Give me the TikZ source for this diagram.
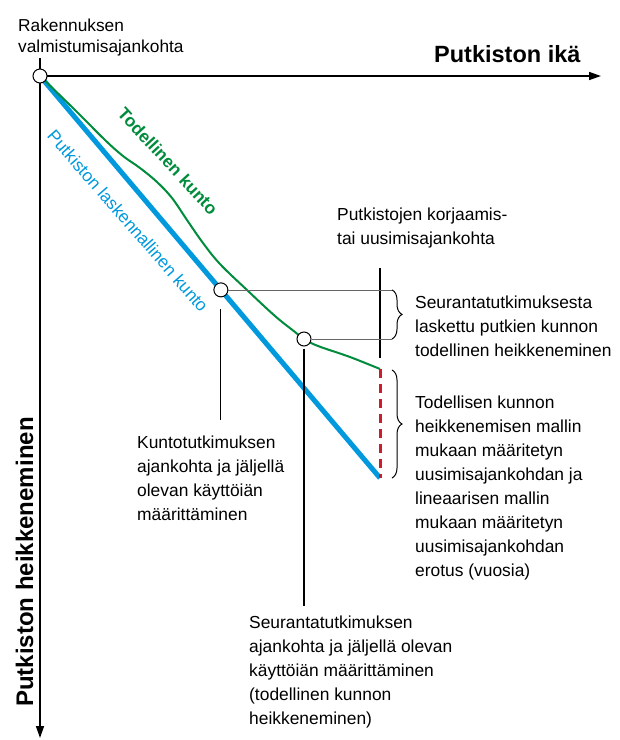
\documentclass[tikz,border=0pt]{standalone}
\usepackage{fontspec}
\setmainfont{Liberation Sans}
\usetikzlibrary{arrows.meta,decorations.pathreplacing,calc}

\definecolor{calcblue}{RGB}{0,153,221}
\definecolor{realgreen}{RGB}{0,140,60}
\definecolor{gapred}{RGB}{200,30,45}

\tikzset{
  txt/.style={font=\fontsize{17.4}{24}\selectfont, align=left, inner sep=0pt, anchor=north west},
  axis/.style={line width=1.5pt, -{Triangle[length=12pt,width=8pt]}},
  dotnode/.style={circle, draw, fill=white, line width=1pt, minimum size=14pt, inner sep=0pt},
  pointer/.style={line width=1.2pt},
  bracket/.style={decorate, decoration={brace, amplitude=10pt}, line width=1pt},
}

\begin{document}
\begin{tikzpicture}[x=1pt,y=-1pt]
  \useasboundingbox (0,0) rectangle (620,740);
  % key points
  \coordinate (start) at (40,76);
  \coordinate (ageend) at (601,76);
  \coordinate (degend) at (40,738);
  \coordinate (renew) at (380,369);
  \coordinate (linend) at (380,478);
  \coordinate (renewtop) at (380,268);
  % axes
  \draw[axis] (start) -- (ageend);
  \draw[axis] (start) -- (degend);
  % calculated condition (linear model)
  \draw[calcblue, line width=5pt] (start) -- (linend);
  % actual condition
  \draw[realgreen, line width=2pt] plot[smooth, tension=0.6] coordinates {
    (40,76) (75,110) (105,140) (123,156) (140,168) (157,182) (172,198)
    (187,220) (203,243) (220,264) (247,290) (275,316) (295,332) (304,339)
    (318,346) (350,357) (380,369)};
  % difference between renewal times
  \draw[gapred, line width=3pt, dash pattern=on 9pt off 6pt] (renew) -- (linend);
  % renewal time marker
  \draw[pointer] (renewtop) -- ([yshift=11pt]renew);
  % survey points
  \node[dotnode] (origin) at (start) {};
  \node[dotnode] (kunto) at ($(start)!0.532!(linend)$) {};
  \node[dotnode] (seuranta) at (304,339) {};
  % braces
  \coordinate (b1top) at (392,0 |- kunto);
  \coordinate (b1bot) at (392,0 |- seuranta);
  \coordinate (b2top) at (392,370);
  \coordinate (b2bot) at (392,478);
  \draw[gray!80!black] (kunto.east) -- (b1top);
  \draw[gray!80!black] (seuranta.east) -- (b1bot);
  \draw[bracket] (b1top) -- (b1bot);
  \draw[bracket] (b2top) -- (b2bot);
  % labels
  \node[txt, font=\fontsize{17.3}{21}\selectfont] (valmlbl) at (18,18.5)
    {Rakennuksen\\valmistumisajankohta};
  \node[font=\bfseries\fontsize{23.5}{28}\selectfont, inner sep=0pt, anchor=base west]
    (ikalbl) at (434,62) {Putkiston ikä};
  \node[font=\bfseries\fontsize{24}{28}\selectfont, inner sep=0pt, anchor=base, rotate=90]
    (heiklbl) at (33,562) {Putkiston heikkeneminen};
  \node[font=\bfseries\fontsize{17.4}{24}\selectfont, text=realgreen, rotate=-47.3]
    (greenlbl) at (168,161) {Todellinen kunto};
  \node[font=\fontsize{17.4}{24}\selectfont, text=calcblue, rotate=-48.9]
    (bluelbl) at (128,221) {Putkiston laskennallinen kunto};
  \node[txt] (korjlbl) at (337,207.5) {Putkistojen korjaamis-\\tai uusimisajankohta};
  \node[txt] (seurlbl) at (415,295.5)
    {Seurantatutkimuksesta\\laskettu putkien kunnon\\todellinen heikkeneminen};
  \node[txt] (erolbl) at (415,395.5)
    {Todellisen kunnon\\heikkenemisen mallin\\mukaan määritetyn\\uusimisajankohdan ja\\
     lineaarisen mallin\\mukaan määritetyn\\uusimisajankohdan\\erotus (vuosia)};
  \node[txt] (kuntolbl) at (137,435.5)
    {Kuntotutkimuksen\\ajankohta ja jäljellä\\olevan käyttöiän\\määrittäminen};
  \node[txt] (seurtlbl) at (249,615.5)
    {Seurantatutkimuksen\\ajankohta ja jäljellä olevan\\käyttöiän määrittäminen\\
     (todellinen kunnon\\heikkeneminen)};
  % pointers to labels
  \draw[pointer] (origin.north) -- ++(0,-11);
  \draw[pointer, shorten <=12pt] (kunto.south) -- (kunto.south |- 0,420);
  \draw[pointer, shorten <=2pt] (seuranta.south) -- (seuranta.south |- 0,606);
\end{tikzpicture}
\end{document}
